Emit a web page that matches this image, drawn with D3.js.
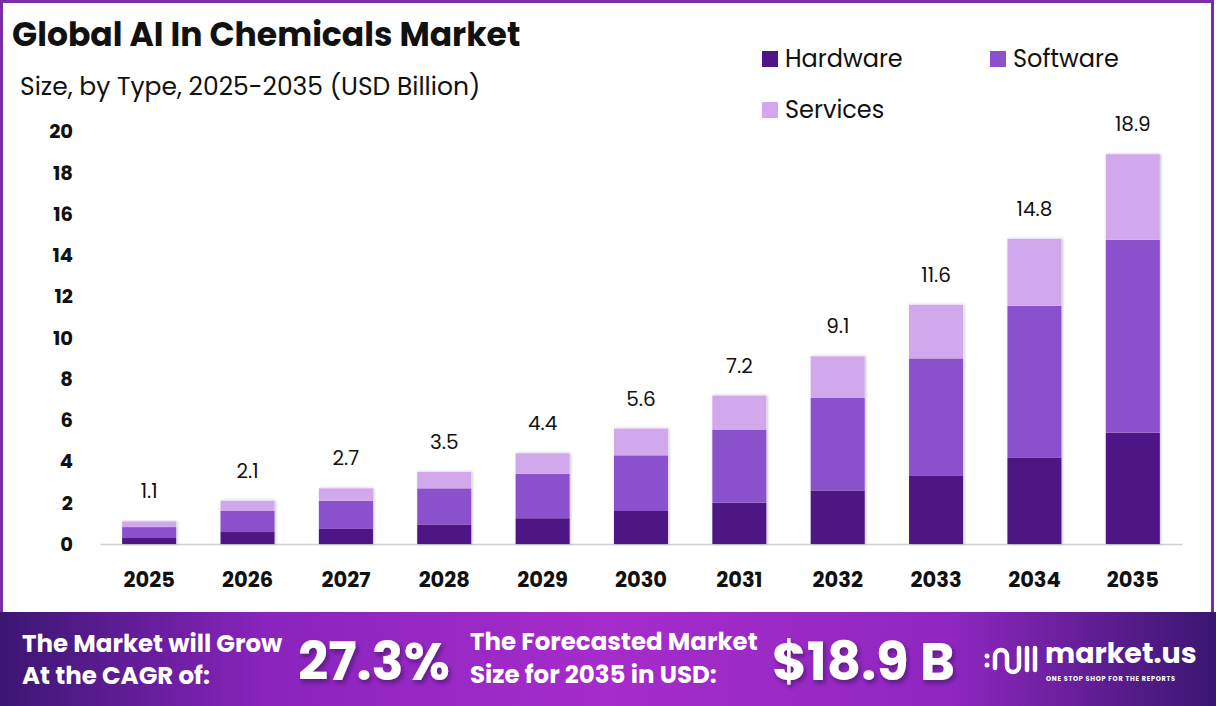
<!DOCTYPE html>
<html>
<head>
    <title>Global AI In Chemicals Market</title>
    <script src="https://d3js.org/d3.v7.min.js"></script>
    <style>
        body { margin: 0; background: #fff; }
        svg { display: block; font-family: "Poppins", "Inter", "Noto Sans", sans-serif; }
    </style>
</head>
<body>
    <svg width="1216" height="706"></svg>
    <script>
        // chart data
        const years = ["2025", "2026", "2027", "2028", "2029", "2030", "2031", "2032", "2033", "2034", "2035"];
        const hardware = [0.29, 0.58, 0.73, 0.95, 1.25, 1.6, 2.0, 2.6, 3.3, 4.2, 5.4];
        const software = [0.53, 1.02, 1.37, 1.75, 2.15, 2.7, 3.55, 4.5, 5.7, 7.35, 9.35];
        const services = [0.28, 0.5, 0.6, 0.8, 1.0, 1.3, 1.65, 2.0, 2.6, 3.25, 4.15];
        const totals = ["1.1", "2.1", "2.7", "3.5", "4.4", "5.6", "7.2", "9.1", "11.6", "14.8", "18.9"];
        const yTicks = [0, 2, 4, 6, 8, 10, 12, 14, 16, 18, 20];
        const seriesNames = ["Hardware", "Software", "Services"];

        const colors = { Hardware: "#4e1684", Software: "#8b50cc", Services: "#d2a8ec" };
        const FONT = '"Poppins", "Inter", "Noto Sans", sans-serif';

        const svg = d3.select("svg");
        const W = 1216, H = 706;

        const table = years.map((y, i) => ({
            year: y, Hardware: hardware[i], Software: software[i], Services: services[i]
        }));

        // defs: gradient for footer and bar shadow
        const defs = svg.append("defs");
        const grad = defs.append("linearGradient").attr("id", "foot").attr("x1", "0%").attr("x2", "100%");
        grad.append("stop").attr("offset", "0%").attr("stop-color", "#3b1673");
        grad.append("stop").attr("offset", "22%").attr("stop-color", "#8a24bd");
        grad.append("stop").attr("offset", "50%").attr("stop-color", "#a62ccb");
        grad.append("stop").attr("offset", "78%").attr("stop-color", "#8f27c0");
        grad.append("stop").attr("offset", "100%").attr("stop-color", "#3a1670");

        const shadow = defs.append("filter").attr("id", "shadow")
            .attr("x", "-20%").attr("y", "-5%").attr("width", "140%").attr("height", "110%");
        shadow.append("feDropShadow").attr("dx", 1).attr("dy", 0).attr("stdDeviation", 1.5)
            .attr("flood-color", "#000").attr("flood-opacity", 0.25);

        const tshadow = defs.append("filter").attr("id", "tshadow");
        tshadow.append("feDropShadow").attr("dx", 2).attr("dy", 3).attr("stdDeviation", 2)
            .attr("flood-color", "#2a0a4a").attr("flood-opacity", 0.55);

        // frame
        svg.append("rect").attr("x", 1.5).attr("y", 1.5).attr("width", W - 5).attr("height", 640)
            .attr("fill", "#fff").attr("stroke", "#7a2ea6").attr("stroke-width", 3);

        // title
        svg.append("text").attr("x", 12).attr("y", 46)
            .style("font-size", "33px").style("font-weight", 700).style("fill", "#111")
            .text("Global AI In Chemicals Market");
        svg.append("text").attr("x", 20).attr("y", 95)
            .style("font-size", "25px").style("fill", "#111")
            .text("Size, by Type, 2025-2035 (USD Billion)");

        // scales
        const x = d3.scaleBand().domain(years).range([100, 1182]).paddingInner(0.45).paddingOuter(0.225);
        const y = d3.scaleLinear().domain([0, 20]).range([544, 131.5]);

        const stack = d3.stack().keys(seriesNames)(table);

        // y axis labels
        const yAxis = svg.append("g").attr("transform", "translate(75,0)")
            .call(d3.axisLeft(y).tickValues(yTicks).tickSize(0).tickPadding(2))
            .attr("font-family", FONT);
        yAxis.select(".domain").remove();
        yAxis.selectAll("text").style("font-size", "19.5px").style("font-weight", 700)
            .style("fill", "#111");

        // x axis
        const xAxis = svg.append("g").attr("transform", "translate(0,544)")
            .call(d3.axisBottom(x).tickSize(0).tickPadding(28))
            .attr("font-family", FONT);
        xAxis.select(".domain").attr("stroke", "#d0d0d0").attr("stroke-width", 1.5);
        xAxis.selectAll("text").style("font-size", "21px").style("font-weight", 700)
            .style("fill", "#111");

        // bars
        const barG = svg.append("g");
        table.forEach((d, i) => {
            barG.append("rect").attr("x", x(d.year)).attr("width", x.bandwidth())
                .attr("y", y(stack[2][i][1])).attr("height", y(0) - y(stack[2][i][1]))
                .attr("fill", "#fff").attr("filter", "url(#shadow)");
        });
        stack.forEach(layer => {
            barG.append("g").attr("fill", colors[layer.key])
                .selectAll("rect").data(layer).join("rect")
                .attr("x", d => x(d.data.year))
                .attr("width", x.bandwidth())
                .attr("y", d => y(d[1]))
                .attr("height", d => y(d[0]) - y(d[1]));
        });

        // total labels
        svg.append("g").selectAll("text").data(table).join("text")
            .attr("x", d => x(d.year) + x.bandwidth() / 2)
            .attr("y", (d, i) => y(stack[2][i][1]) - 23)
            .attr("text-anchor", "middle")
            .style("font-size", "20px").style("fill", "#111")
            .text((d, i) => totals[i]);

        // legend
        const legendPos = [[762, 59], [990, 59], [762, 110]];
        seriesNames.forEach((name, i) => {
            const [lx, ly] = legendPos[i];
            svg.append("rect").attr("x", lx).attr("y", ly - 8).attr("width", 16).attr("height", 16)
                .attr("fill", colors[name]);
            svg.append("text").attr("x", lx + 23).attr("y", ly + 8)
                .style("font-size", "24px").style("fill", "#111").text(name);
        });

        // footer
        svg.append("rect").attr("x", 0).attr("y", 612).attr("width", W).attr("height", H - 612)
            .attr("fill", "url(#foot)");
        const foot = svg.append("g").style("fill", "#fff").style("font-weight", 700);
        foot.append("text").attr("x", 22).attr("y", 652).style("font-size", "24.5px")
            .text("The Market will Grow");
        foot.append("text").attr("x", 22).attr("y", 684).style("font-size", "24.5px")
            .text("At the CAGR of:");
        foot.append("text").attr("x", 298).attr("y", 680).style("font-size", "53px")
            .attr("filter", "url(#tshadow)").text("27.3%");
        foot.append("text").attr("x", 470).attr("y", 650).style("font-size", "24.5px")
            .text("The Forecasted Market");
        foot.append("text").attr("x", 470).attr("y", 683).style("font-size", "24.5px")
            .text("Size for 2035 in USD:");
        foot.append("text").attr("x", 772).attr("y", 680).style("font-size", "53px")
            .attr("filter", "url(#tshadow)").text("$18.9 B");

        // logo
        const logo = svg.append("g").attr("transform", "translate(985,640)")
            .attr("fill", "none").attr("stroke", "#fff").attr("stroke-width", 4.5).attr("stroke-linecap", "round");
        logo.append("circle").attr("cx", 2).attr("cy", 16).attr("r", 2.5).attr("fill", "#fff").attr("stroke", "none");
        logo.append("circle").attr("cx", 2).attr("cy", 25).attr("r", 2.5).attr("fill", "#fff").attr("stroke", "none");
        logo.append("path").attr("d", "M10,28 L10,16 A6,6 0 0 1 22,16 L22,26 A6,6 0 0 0 34,26 L34,8");
        logo.append("path").attr("d", "M42,8 L42,30");
        logo.append("path").attr("d", "M50,8 L50,30");
        foot.append("text").attr("x", 1045).attr("y", 663).style("font-size", "28.5px").text("market.us");
        foot.append("text").attr("x", 1046).attr("y", 681).style("font-size", "6.5px")
            .style("letter-spacing", "0.7px").text("ONE STOP SHOP FOR THE REPORTS");
    </script>
</body>
</html>
